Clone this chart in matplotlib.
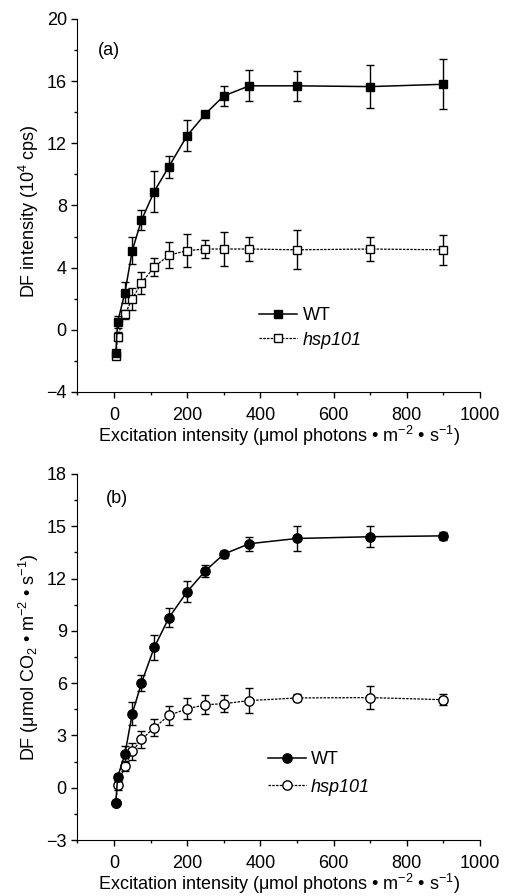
import matplotlib
matplotlib.use("Agg")
import matplotlib.pyplot as plt
from matplotlib.ticker import MultipleLocator
from matplotlib.lines import Line2D

plt.rcParams['font.family'] = ['Liberation Sans', 'DejaVu Sans']
plt.rcParams['mathtext.fontset'] = 'custom'
plt.rcParams['mathtext.rm'] = 'Liberation Sans'
plt.rcParams['mathtext.it'] = 'Liberation Sans:italic'

x = [5, 10, 30, 50, 75, 110, 150, 200, 250, 300, 370, 500, 700, 900]

# Panel (a): DF intensity (10^4 cps)
a_wt = [-1.5, 0.5, 2.4, 5.1, 7.05, 8.9, 10.5, 12.5, 13.9, 15.05, 15.7, 15.7, 15.65, 15.8]
a_wt_err = [0.2, 0.4, 0.7, 0.85, 0.65, 1.3, 0.7, 1.0, 0.2, 0.65, 1.0, 0.95, 1.4, 1.6]
a_hsp = [-1.7, -0.45, 1.0, 2.0, 3.0, 4.05, 4.8, 5.1, 5.2, 5.2, 5.2, 5.15, 5.2, 5.15]
a_hsp_err = [0.2, 0.3, 0.3, 0.7, 0.7, 0.6, 0.85, 1.05, 0.6, 1.1, 0.8, 1.25, 0.75, 0.95]

# Panel (b): DF (umol CO2 m-2 s-1)
b_wt = [-0.85, 0.6, 1.95, 4.25, 6.0, 8.05, 9.75, 11.25, 12.45, 13.4, 14.0, 14.3, 14.4, 14.45]
b_wt_err = [0.15, 0.2, 0.45, 0.65, 0.45, 0.7, 0.55, 0.6, 0.35, 0.2, 0.4, 0.7, 0.6, 0.25]
b_hsp = [-0.85, 0.15, 1.25, 2.08, 2.77, 3.44, 4.15, 4.53, 4.76, 4.82, 5.0, 5.15, 5.17, 5.05]
b_hsp_err = [0.15, 0.3, 0.3, 0.5, 0.5, 0.5, 0.55, 0.6, 0.55, 0.5, 0.7, 0.2, 0.65, 0.3]

xlabel = "Excitation intensity (μmol photons • m$^{-2}$ • s$^{-1}$)"

FS_TICK = 13
FS_LAB = 13

fig = plt.figure(figsize=(5.09, 8.96), dpi=100)
ax1 = fig.add_axes([0.152, 0.5625, 0.791, 0.4163])
ax2 = fig.add_axes([0.152, 0.0625, 0.791, 0.4085])

def style(ax, ylim, ymaj, ymin):
    ax.set_xlim(-100, 1000)
    ax.set_ylim(*ylim)
    ax.spines['top'].set_visible(False)
    ax.spines['right'].set_visible(False)
    ax.xaxis.set_major_locator(MultipleLocator(200))
    ax.xaxis.set_minor_locator(MultipleLocator(100))
    ax.yaxis.set_major_locator(MultipleLocator(ymaj))
    ax.yaxis.set_minor_locator(MultipleLocator(ymin))
    ax.tick_params(which='major', direction='out', length=4.3, width=1, labelsize=FS_TICK)
    ax.tick_params(which='minor', direction='out', length=2.4, width=1)
    ax.tick_params(axis='x', which='major', pad=6.2)
    ax.tick_params(axis='y', which='major', pad=3.3)
    ax.set_xlabel(xlabel, fontsize=FS_LAB, labelpad=0)

def plot(ax, wt, wte, hsp, hspe, marker, ms):
    ax.errorbar(x, hsp, yerr=hspe, fmt=marker, color='black', mfc='white', mec='black',
                ms=ms, mew=1, lw=0.9, ls=(0, (2, 1)), capsize=3, elinewidth=1, zorder=2)
    ax.errorbar(x, wt, yerr=wte, fmt=marker, color='black', mfc='black', mec='black',
                ms=ms, mew=1, lw=1.1, ls='-', capsize=3, elinewidth=1, zorder=3)
    return [Line2D([], [], color='black', marker=marker, mfc='black', mec='black',
                   ms=ms, mew=1, lw=1.1, ls='-'),
            Line2D([], [], color='black', marker=marker, mfc='white', mec='black',
                   ms=ms, mew=1, lw=0.9, ls=(0, (2, 1)))]

h1 = plot(ax1, a_wt, a_wt_err, a_hsp, a_hsp_err, 's', 6.2)
style(ax1, (-4, 20), 4, 2)
ax1.set_ylabel("DF intensity (10$^4$ cps)", fontsize=FS_LAB, labelpad=4)
ax1.yaxis.label.set_y(0.486)
ax1.text(0.05, 0.904, "(a)", transform=ax1.transAxes, fontsize=FS_LAB)

h2 = plot(ax2, b_wt, b_wt_err, b_hsp, b_hsp_err, 'o', 6.7)
style(ax2, (-3, 18), 3, 1.5)
ax2.set_ylabel("DF (μmol CO$_2$ • m$^{-2}$ • s$^{-1}$)", fontsize=FS_LAB, labelpad=4)
ax2.text(0.07, 0.921, "(b)", transform=ax2.transAxes, fontsize=FS_LAB)

for ax, h, loc, ls in ((ax1, h1, (0.452, 0.172), 0.42), (ax2, h2, (0.473, 0.182), 0.6)):
    leg = ax.legend(h, ['WT', 'hsp101'], loc='center left', bbox_to_anchor=loc,
                    frameon=False, fontsize=FS_LAB, handlelength=2.1, handletextpad=0.3,
                    labelspacing=ls, borderaxespad=0, borderpad=0)
    leg.get_texts()[1].set_fontstyle('italic')

fig.savefig("out.png", dpi=100)
